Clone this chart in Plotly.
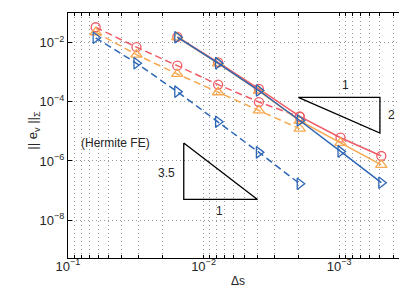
import plotly.graph_objects as go
import numpy as np

# ---- data ----
ds_coarse = [1/16, 1/32, 1/64, 1/128, 1/256, 1/512]
ds_fine = [1/64, 1/128, 1/256, 1/512, 1/1024, 1/2048]

red_dashed = [3.3e-2, 7.0e-3, 1.66e-3, 3.8e-4, 9.8e-5, 3.1e-5]
orange_dashed = [2.24e-2, 3.9e-3, 8.7e-4, 2.1e-4, 5.1e-5, 1.23e-5]
blue_dashed = [1.45e-2, 2.0e-3, 2.2e-4, 2.1e-5, 1.95e-6, 1.7e-7]

red_solid = [1.56e-2, 2.15e-3, 2.74e-4, 3.23e-5, 6.1e-6, 1.47e-6]
orange_solid = [1.5e-2, 1.99e-3, 2.34e-4, 2.28e-5, 4.1e-6, 7.4e-7]
blue_solid = [1.52e-2, 2.02e-3, 2.4e-4, 2.33e-5, 2.1e-6, 1.84e-7]

# slope triangles: (x_left, x_right, y_anchor, slope)
tri2 = (2.0e-3, 5.0e-4, 1.4e-4, 2.0)      # horizontal top edge at y_anchor
tri35 = (1.4e-2, 4.0e-3, 5.0e-8, 3.5)     # horizontal bottom edge at y_anchor

x_tick_major = [1e-1, 1e-2, 1e-3]
x_tick_labels = ["10<sup>−1</sup>", "10<sup>−2</sup>", "10<sup>−3</sup>"]
y_tick_vals = [1e-8, 1e-6, 1e-4, 1e-2]
y_tick_labels = ["10<sup>−8</sup>", "10<sup>−6</sup>", "10<sup>−4</sup>", "10<sup>−2</sup>"]

RED = "#EF5B66"
ORANGE = "#F7A851"
BLUE = "#2D66B6"

fig = go.Figure()

def add(x, y, color, symbol, dash, size):
    fig.add_trace(go.Scatter(
        x=x, y=y, mode="lines+markers",
        line=dict(color=color, width=1.5, dash=dash),
        marker=dict(symbol=symbol, size=size, color=color,
                    line=dict(color=color, width=1.3)),
        showlegend=False))

dash_pat = "7px,4px"
add(ds_coarse, red_dashed, RED, "circle-open", dash_pat, 9)
add(ds_coarse, orange_dashed, ORANGE, "triangle-up-open", dash_pat, 10)
add(ds_coarse, blue_dashed, BLUE, "triangle-right-open", dash_pat, 10)
add(ds_fine, red_solid, RED, "circle-open", "solid", 9)
add(ds_fine, orange_solid, ORANGE, "triangle-up-open", "solid", 10)
add(ds_fine, blue_solid, BLUE, "triangle-right-open", "solid", 10)

# slope triangle with slope 2
xl, xr, ya, s = tri2
yb = ya * (xl / xr) ** (-s)
fig.add_trace(go.Scatter(x=[xl, xr, xr, xl], y=[ya, ya, yb, ya], mode="lines",
                         line=dict(color="black", width=1.3), showlegend=False,
                         hoverinfo="skip"))
# slope triangle with slope 3.5
xl, xr, ya, s = tri35
yt = ya * (xl / xr) ** s
fig.add_trace(go.Scatter(x=[xl, xl, xr, xl], y=[yt, ya, ya, yt], mode="lines",
                         line=dict(color="black", width=1.3), showlegend=False,
                         hoverinfo="skip"))

# minor x ticks / grid positions
x_all = []
for e in [-1, -2, -3, -4]:
    for m in range(1, 10):
        v = m * 10.0 ** e
        if 3e-4 <= v <= 1e-1 + 1e-12:
            x_all.append(v)
x_text = []
for v in x_all:
    lbl = ""
    for mv, ml in zip(x_tick_major, x_tick_labels):
        if abs(v - mv) / mv < 1e-9:
            lbl = ml
    x_text.append(lbl)

FAM = "Liberation Sans, Arial, sans-serif"
font = dict(family=FAM, size=13, color="#262626")
grid_col = "#9a9a9a"

fig.update_xaxes(type="log", range=[-1.0, np.log10(3e-4)],
                 tickvals=x_all, ticktext=x_text,
                 ticks="inside", ticklen=3, tickcolor="black",
                 showgrid=True, gridcolor=grid_col, griddash="1px,3px", gridwidth=1,
                 showline=True, linecolor="black", linewidth=1.2, mirror="ticks",
                 zeroline=False, tickfont=font, ticklabelstandoff=-4)
fig.update_yaxes(type="log", range=[-9.28, -1.0],
                 tickvals=y_tick_vals, ticktext=y_tick_labels,
                 ticks="inside", ticklen=4, tickcolor="black",
                 showgrid=True, gridcolor=grid_col, griddash="1px,3px", gridwidth=1,
                 showline=True, linecolor="black", linewidth=1.2, mirror="ticks",
                 zeroline=False, tickfont=font)

ann_font = dict(family=FAM, size=12, color="#262626")
annotations = [
    dict(x=-3.045, y=-3.45, text="1"),
    dict(x=-3.384, y=-4.44, text="2"),
    dict(x=-1.725, y=-6.40, text="3.5"),
    dict(x=-2.119, y=-7.70, text="1"),
    dict(x=-1.354, y=-5.39, text="(Hermite FE)"),
]
for a in annotations:
    fig.add_annotation(x=a["x"], y=a["y"], text=a["text"], showarrow=False,
                       xref="x", yref="y", font=ann_font)

# axis titles
fig.add_annotation(x=0.497, y=-0.129, xref="paper", yref="paper", text="Δs",
                   showarrow=False, font=ann_font)
fig.add_annotation(x=-0.13, y=0.52, xref="paper", yref="paper",
                   text="|| e<sub>v</sub> ||<sub>Σ</sub>", textangle=-90,
                   showarrow=False, font=dict(family=FAM, size=13, color="#262626"))

fig.update_layout(width=407, height=288,
                  margin=dict(l=60, r=5, t=5, b=38),
                  paper_bgcolor="white", plot_bgcolor="white")

fig.write_html("out.html")
